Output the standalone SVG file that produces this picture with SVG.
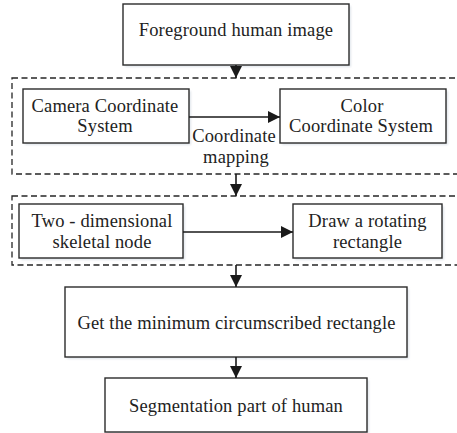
<svg xmlns="http://www.w3.org/2000/svg" width="457" height="433" viewBox="0 0 457 433" font-family="'Liberation Serif', 'Times New Roman', 'DejaVu Serif', serif">
  <style>
    .box { fill: #ffffff; stroke: #2b2b2b; stroke-width: 1.4; }
    .shadow { fill: #d4dbe3; opacity: 0.7; }
    .group { fill: none; stroke: #262626; stroke-width: 1.3; stroke-dasharray: 6 3.5; }
    .lbl { font-family: 'Liberation Serif', 'Times New Roman', 'DejaVu Serif', serif; font-size: 18.5px; letter-spacing: 0.15px; fill: #222222; text-anchor: middle; }
    .link { stroke: #1a1a1a; stroke-width: 1.6; fill: none; }
  </style>
  <defs>
    <marker id="head" viewBox="0 0 12 12" refX="12" refY="6" markerWidth="12" markerHeight="12" markerUnits="userSpaceOnUse" orient="auto">
      <path d="M0,0 L12,6 L0,12 Z" fill="#1a1a1a"/>
    </marker>
    <filter id="soft" x="-5%" y="-5%" width="110%" height="110%">
      <feGaussianBlur stdDeviation="1"/>
    </filter>
  </defs>

  <rect width="457" height="433" fill="#ffffff"/>

  <!-- dashed grouping frames -->
  <g id="stage-mapping">
    <rect class="group" x="12" y="78" width="470" height="96"/>
  </g>
  <g id="stage-skeleton">
    <rect class="group" x="12" y="196" width="470" height="69"/>
  </g>

  <g id="foreground">
    <rect class="shadow" x="125" y="6" width="226" height="61" filter="url(#soft)"/>
    <rect class="box" x="123" y="4" width="226" height="61"/>
    <text class="lbl" x="236" y="36">Foreground human image</text>
  </g>

  <g id="camera">
    <rect class="shadow" x="25" y="91" width="166" height="54" filter="url(#soft)"/>
    <rect class="box" x="23" y="89" width="166" height="54"/>
    <text class="lbl" x="105" y="112">Camera Coordinate</text>
    <text class="lbl" x="105" y="132">System</text>
  </g>

  <g id="color">
    <rect class="shadow" x="282" y="91" width="166" height="54" filter="url(#soft)"/>
    <rect class="box" x="280" y="89" width="166" height="54"/>
    <text class="lbl" x="362" y="112">Color</text>
    <text class="lbl" x="361" y="132">Coordinate System</text>
  </g>

  <g id="mapping-label">
    <text class="lbl" x="234" y="142">Coordinate</text>
    <text class="lbl" x="236" y="163">mapping</text>
  </g>

  <g id="skeletal">
    <rect class="shadow" x="21" y="206" width="164" height="54" filter="url(#soft)"/>
    <rect class="box" x="19" y="204" width="164" height="54"/>
    <text class="lbl" x="102" y="227">Two - dimensional</text>
    <text class="lbl" x="102" y="248">skeletal node</text>
  </g>

  <g id="rotating">
    <rect class="shadow" x="295" y="206" width="149" height="54" filter="url(#soft)"/>
    <rect class="box" x="293" y="204" width="149" height="54"/>
    <text class="lbl" x="367.5" y="227">Draw a rotating</text>
    <text class="lbl" x="367.5" y="248">rectangle</text>
  </g>

  <g id="circumscribed">
    <rect class="shadow" x="67" y="289" width="342" height="70" filter="url(#soft)"/>
    <rect class="box" x="65" y="287" width="342" height="70"/>
    <text class="lbl" x="236.5" y="329">Get the minimum circumscribed rectangle</text>
  </g>

  <g id="segmentation">
    <rect class="shadow" x="107" y="380" width="262" height="54" filter="url(#soft)"/>
    <rect class="box" x="105" y="378" width="262" height="54"/>
    <text class="lbl" x="236" y="412">Segmentation part of human</text>
  </g>

  <!-- connectors -->
  <g id="connectors">
    <line class="link" x1="236" y1="65" x2="236" y2="78" marker-end="url(#head)"/>
    <line class="link" x1="189" y1="117" x2="280" y2="117" marker-end="url(#head)"/>
    <line class="link" x1="236" y1="174" x2="236" y2="196" marker-end="url(#head)"/>
    <line class="link" x1="183" y1="232" x2="293" y2="232" marker-end="url(#head)"/>
    <line class="link" x1="236" y1="265" x2="236" y2="287" marker-end="url(#head)"/>
    <line class="link" x1="236" y1="357" x2="236" y2="378" marker-end="url(#head)"/>
  </g>
</svg>
